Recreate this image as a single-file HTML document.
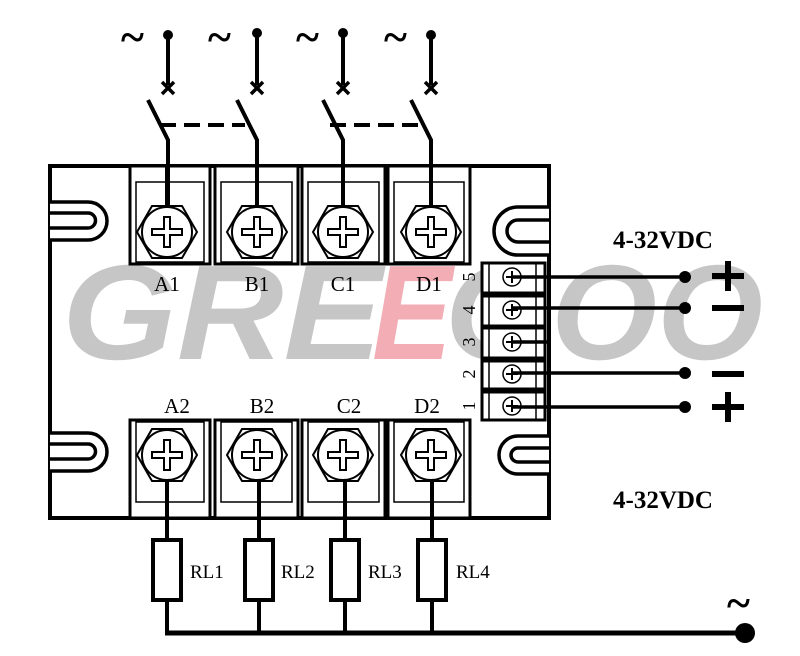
<!DOCTYPE html>
<html><head><meta charset="utf-8"><style>html,body{margin:0;padding:0;background:#fff}svg{display:block}</style></head>
<body>
<svg width="800" height="656" viewBox="0 0 800 656" xmlns="http://www.w3.org/2000/svg" font-family="'Liberation Serif', serif">
<!-- watermark -->
<g font-family="'Liberation Sans', sans-serif" font-weight="bold" font-style="italic" font-size="135" opacity="0.85">
<text x="62" y="359" fill="#bdbdbd" textLength="320" lengthAdjust="spacingAndGlyphs">GRE</text>
<text x="372" y="359" fill="#f0a0a8" textLength="80" lengthAdjust="spacingAndGlyphs">E</text>
<text x="445" y="359" fill="#bdbdbd" textLength="318" lengthAdjust="spacingAndGlyphs">GOO</text>
</g>
<g stroke="#000" fill="none">
<path d="M50,166 H549 V518 H50 Z" stroke-width="4"/>
<g stroke-width="3.5" fill="#fff">
<path d="M50,202 H88 A19,19 0 0 1 88,240 H50"/>
<path d="M50,213 H88 A7.5,7.5 0 0 1 88,228 H50"/>
<path d="M50,433 H88 A19,19 0 0 1 88,471 H50"/>
<path d="M50,444 H88 A7.5,7.5 0 0 1 88,459 H50"/>
<path d="M549,207 H518 A24,24 0 0 0 518,255 H549"/>
<path d="M549,220 H518 A11,11 0 0 0 518,242 H549"/>
<path d="M549,436 H518 A19,19 0 0 0 518,474 H549"/>
<path d="M549,448 H518 A7,7 0 0 0 518,462 H549"/>
</g>
</g>
<g stroke="#000" fill="#fff">
<g stroke-width="3">
<rect x="130" y="166" width="80" height="98"/><rect x="215" y="166" width="83" height="98"/><rect x="302" y="166" width="83" height="98"/><rect x="388" y="166" width="82" height="98"/>
<rect x="130" y="420" width="80" height="98"/><rect x="215" y="420" width="83" height="98"/><rect x="302" y="420" width="83" height="98"/><rect x="388" y="420" width="82" height="98"/>
</g>
<g stroke-width="1.5" fill="none">
<rect x="136" y="182" width="68" height="80"/><rect x="221" y="182" width="71" height="80"/><rect x="308" y="182" width="71" height="80"/><rect x="394" y="182" width="70" height="80"/>
<rect x="136" y="422" width="68" height="80"/><rect x="221" y="422" width="71" height="80"/><rect x="308" y="422" width="71" height="80"/><rect x="394" y="422" width="70" height="80"/>
</g>
</g>
<g stroke="#000" stroke-width="4" fill="none">
<path d="M168,35 V85 M148,100 L168,140 V208"/>
<path d="M257,35 V85 M237,100 L257,140 V208"/>
<path d="M343,35 V85 M323,100 L343,140 V208"/>
<path d="M431,35 V85 M411,100 L431,140 V208"/>
<path d="M160,125 H245 M330,125 H420" stroke-dasharray="16,8"/>
<path d="M162,82 L174,94 M174,82 L162,94 M251,82 L263,94 M263,82 L251,94 M337,82 L349,94 M349,82 L337,94 M425,82 L437,94 M437,82 L425,94" stroke-width="3.5"/>
<path d="M167,480 V540 M167,600 V633 M259,480 V540 M259,600 V633 M345,480 V540 M345,600 V633 M432,480 V540 M432,600 V633"/>
<path d="M165,633 H745" stroke-width="5"/>
</g>
<g fill="#000"><circle cx="168" cy="35" r="5"/><circle cx="257" cy="33" r="5"/><circle cx="343" cy="33" r="5"/><circle cx="431" cy="35" r="5"/><circle cx="745" cy="633" r="10"/></g>
<g font-size="44" font-weight="bold" fill="#000"><text x="121" y="52">~</text><text x="208" y="52">~</text><text x="296" y="52">~</text><text x="384" y="52">~</text><text x="727" y="618">~</text></g>
<g stroke="#000" stroke-width="4" fill="#fff">
<rect x="153" y="540" width="28" height="60"/><rect x="245" y="540" width="28" height="60"/><rect x="331" y="540" width="28" height="60"/><rect x="418" y="540" width="28" height="60"/>
</g>
<g font-size="19" fill="#000"><text x="190" y="578">RL1</text><text x="281" y="578">RL2</text><text x="368" y="578">RL3</text><text x="456" y="578">RL4</text></g>
<g stroke="#000" fill="#fff" stroke-width="2">
<g id="s1"><polygon points="137,232 152,206 182,206 197,232 182,258 152,258"/><circle cx="167" cy="232" r="25"/><path d="M152,229 H164 V217 H170 V229 H182 V235 H170 V247 H164 V235 H152 Z"/></g>
</g>
<g stroke="#000" fill="#fff" stroke-width="2">
<use href="#s1" x="90"/><use href="#s1" x="176"/><use href="#s1" x="264"/>
<use href="#s1" y="223"/><use href="#s1" x="90" y="223"/><use href="#s1" x="176" y="223"/><use href="#s1" x="264" y="223"/>
</g>
<g stroke="#000" stroke-width="4"><path d="M167,166 V208 M257,166 V208 M343,166 V208 M431,166 V208"/></g>
<g font-size="21" fill="#000" text-anchor="middle">
<text x="167" y="291">A1</text><text x="257" y="291">B1</text><text x="343" y="291">C1</text><text x="429" y="291">D1</text>
<text x="177" y="413">A2</text><text x="262" y="413">B2</text><text x="349" y="413">C2</text><text x="427" y="413">D2</text>
</g>
<g stroke="#000" stroke-width="3" fill="#fff">
<rect x="482" y="263" width="63" height="30"/><rect x="482" y="296" width="63" height="30"/><rect x="482" y="328" width="63" height="30"/><rect x="482" y="361" width="63" height="28"/><rect x="482" y="392" width="63" height="28"/>
</g>
<g stroke="#000" stroke-width="1.5"><path d="M489,263 V420 M536,263 V420"/></g>
<g stroke="#000" stroke-width="1.5" fill="#fff">
<circle cx="512" cy="277" r="9"/><circle cx="512" cy="310" r="9"/><circle cx="512" cy="342" r="9"/><circle cx="512" cy="374" r="9"/><circle cx="512" cy="406" r="9"/>
</g>
<g stroke="#000" stroke-width="2"><path d="M506,277 H518 M512,271 V283 M506,310 H518 M512,304 V316 M506,342 H518 M512,336 V348 M506,374 H518 M512,368 V380 M506,406 H518 M512,400 V412"/></g>
<g stroke="#000" stroke-width="3.5"><path d="M512,277 H685 M512,308 H685 M512,342 H547 M512,373 H685 M512,407 H685"/></g>
<g fill="#000"><circle cx="685" cy="277" r="6"/><circle cx="685" cy="308" r="6"/><circle cx="685" cy="373" r="6"/><circle cx="685" cy="407" r="6"/></g>
<g fill="#000"><rect x="712" y="273" width="32" height="6"/><rect x="725" y="261" width="6" height="30"/><rect x="712" y="305" width="32" height="6"/><rect x="712" y="371" width="32" height="6"/><rect x="712" y="404" width="32" height="6"/><rect x="725" y="392" width="6" height="30"/></g>
<g font-size="18" fill="#000" text-anchor="middle">
<text transform="translate(469,277) rotate(-90)" dy="6">5</text>
<text transform="translate(469,310) rotate(-90)" dy="6">4</text>
<text transform="translate(469,342) rotate(-90)" dy="6">3</text>
<text transform="translate(469,374) rotate(-90)" dy="6">2</text>
<text transform="translate(469,406) rotate(-90)" dy="6">1</text>
</g>
<g font-size="25" font-weight="bold" fill="#000"><text x="613" y="248">4-32VDC</text><text x="613" y="508">4-32VDC</text></g>
</svg>
</body></html>
